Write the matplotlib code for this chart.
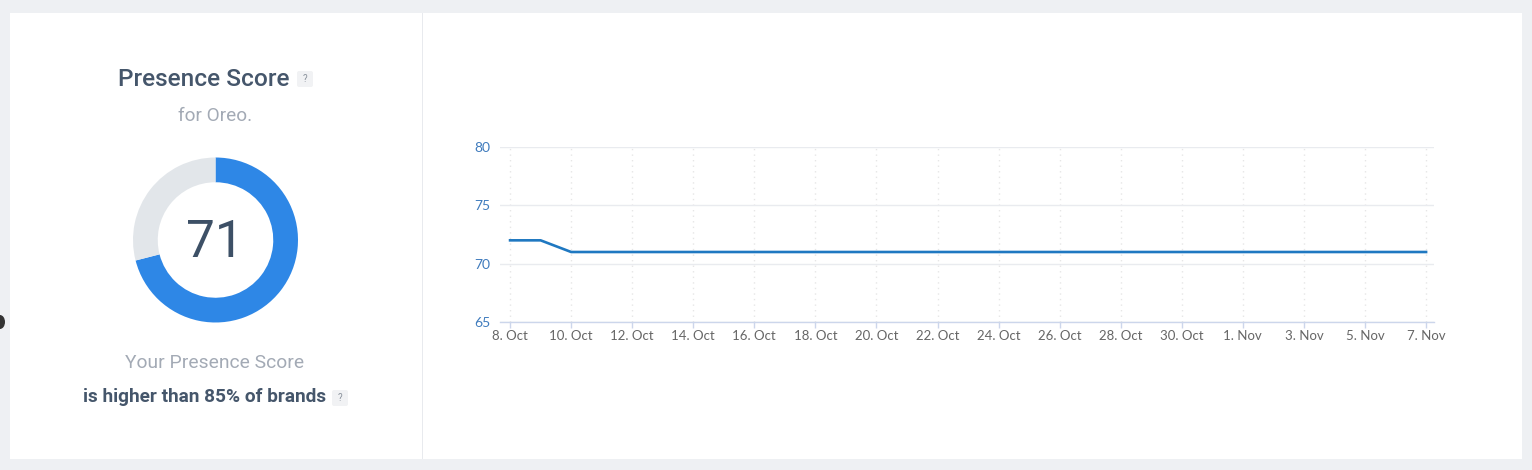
import pandas as pd
import matplotlib
matplotlib.use("Agg")
import matplotlib.pyplot as plt
import matplotlib.dates as mdates
from matplotlib.patches import Rectangle, FancyBboxPatch, Ellipse

# данные
DATES = pd.date_range("2019-10-08", "2019-11-07", freq="D")
SCORES = [72, 72] + [71] * 29
SCORE = 71
PERCENTILE = 85
BRAND = "Oreo"
Y_TICKS = [65, 70, 75, 80]

W, H = 1532, 470
fig = plt.figure(figsize=(W / 100, H / 100), dpi=100)
fig.patch.set_facecolor("#eef0f3")

# фон и карточки в пиксельных координатах
bg = fig.add_axes([0, 0, 1, 1])
bg.set_xlim(0, W)
bg.set_ylim(H, 0)
bg.axis("off")
bg.add_patch(Rectangle((10, 13), 1512, 446, facecolor="white", edgecolor="none"))
bg.add_patch(Rectangle((421.5, 13), 1.5, 446, facecolor="#e8eaee", edgecolor="none"))
bg.add_patch(Ellipse((0, 322), 10, 14, facecolor="#333333", edgecolor="none"))

dark = "#45566b"
grey = "#a3aab5"

bg.text(204, 79, "Presence Score", ha="center", va="center", fontsize=17.6,
        family="Roboto", weight="medium", color=dark)
bg.add_patch(FancyBboxPatch((297, 71), 16, 16, boxstyle="round,pad=0,rounding_size=2",
                            facecolor="#f1f2f4", edgecolor="none"))
bg.text(305, 79, "?", ha="center", va="center", fontsize=7, family="Roboto", color="#8a929c")

bg.text(215.5, 116, "for " + BRAND + ".", ha="center", va="center", fontsize=13.7,
        family="Roboto", color=grey)

bg.text(215, 363, "Your Presence Score", ha="center", va="center", fontsize=13.9,
        family="Roboto", color=grey)
bg.text(204.5, 397, "is higher than %d%% of brands" % PERCENTILE, ha="center", va="center",
        fontsize=13.7, family="Roboto", weight="bold", color=dark)
bg.add_patch(FancyBboxPatch((332, 390), 16, 16, boxstyle="round,pad=0,rounding_size=2",
                            facecolor="#f1f2f4", edgecolor="none"))
bg.text(340, 398, "?", ha="center", va="center", fontsize=7, family="Roboto", color="#8a929c")

# кольцо
r = 82.5
cx, cy = 215.5, 240
dn = fig.add_axes([(cx - r) / W, 1 - (cy + r) / H, 2 * r / W, 2 * r / H])
dn.pie([SCORE, 100 - SCORE], colors=["#2e87e6", "#e2e6ea"], startangle=90,
       counterclock=False, radius=1, wedgeprops=dict(width=0.3, edgecolor="none"))
dn.set_xlim(-1, 1)
dn.set_ylim(-1, 1)
dn.set_aspect("equal")
dn.axis("off")
dn.text(-0.01, -0.04, str(SCORE), ha="center", va="center", fontsize=37, family="Roboto",
        color="#3d5066")

# линейный график
x0, x1, y0, y1 = 500, 1434, 147, 322
ax = fig.add_axes([x0 / W, 1 - y1 / H, (x1 - x0) / W, (y1 - y0) / H])
ax.plot(DATES, SCORES, color="#1f78c1", lw=1.9, solid_joinstyle="round")
ax.set_ylim(65, 80)
ax.set_yticks(Y_TICKS)
day = pd.Timedelta(days=1)
ax.set_xlim(DATES[0] - day * 0.33, DATES[-1] + day * 0.26)
ax.set_xticks(DATES[::2])
ax.xaxis.set_major_formatter(mdates.DateFormatter("%-d. %b"))
for s in ["top", "right", "left"]:
    ax.spines[s].set_visible(False)
ax.spines["bottom"].set_color("#ccd6eb")
ax.spines["bottom"].set_linewidth(1)
ax.grid(axis="y", color="#e9ebef", lw=1, ls="-")
ax.grid(axis="x", color="#e6e6e6", lw=1, ls=(0, (1, 3)))
ax.set_axisbelow(True)
ax.tick_params(axis="y", length=0, pad=7, labelsize=10, labelcolor="#3f7bbd")
ax.tick_params(axis="x", length=4, width=1, color="#ccd6eb", pad=1.5, labelsize=9.5,
               labelcolor="#666666")
for lab in ax.get_xticklabels() + ax.get_yticklabels():
    lab.set_family("Lato")
ax.set_facecolor("none")

fig.savefig("out.png", dpi=100, facecolor=fig.get_facecolor())
